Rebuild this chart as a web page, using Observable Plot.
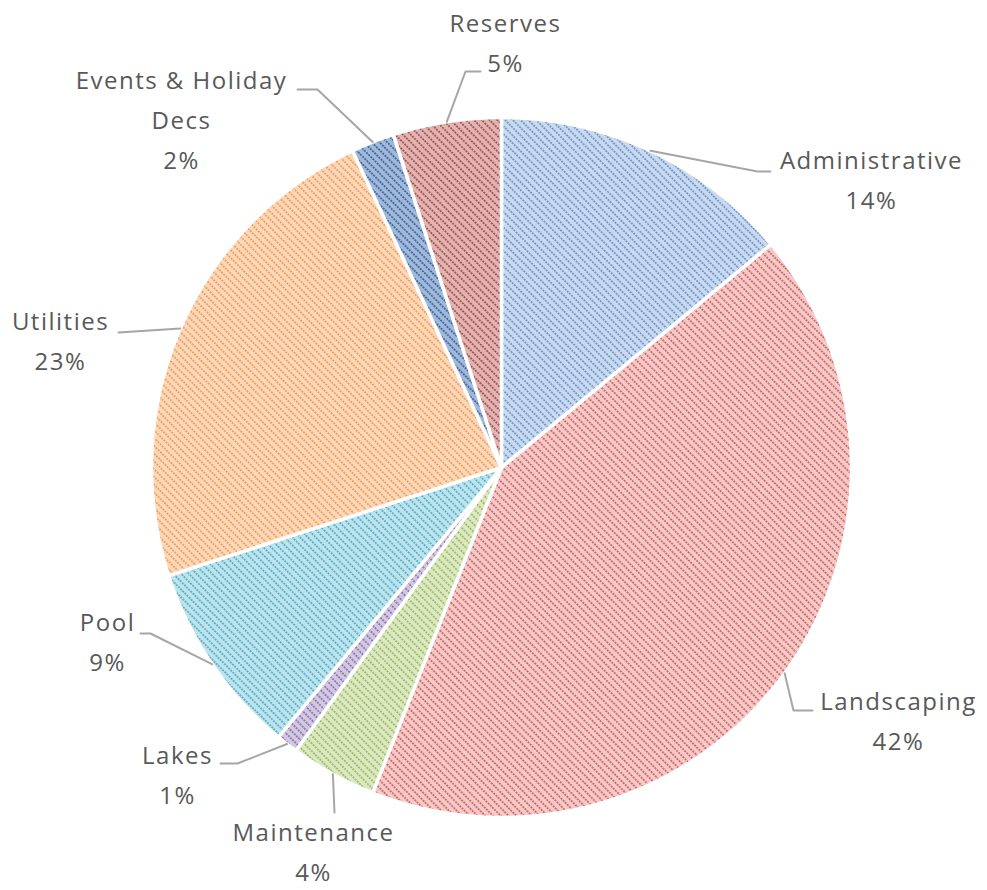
<!DOCTYPE html>
<html><head><meta charset="utf-8">
<script src="https://cdn.jsdelivr.net/npm/d3@7"></script>
<script src="https://cdn.jsdelivr.net/npm/@observablehq/plot@0.6"></script>
<style>html,body{margin:0;background:#fff}#chart svg{display:block}</style>
</head><body><div id="chart"></div>
<script>
// ---- data ----
const categories = ["Administrative","Landscaping","Maintenance","Lakes","Pool","Utilities","Events & Holiday Decs","Reserves"];
const values = [14, 42, 4, 1, 9, 23, 2, 5];
const labelLines = ["Administrative\n14%","Landscaping\n42%","Maintenance\n4%","Lakes\n1%","Pool\n9%","Utilities\n23%","Events & Holiday\nDecs\n2%","Reserves\n5%"];

// ---- styles ----
const baseColors = ["#c9daf0","#f5c9c8","#dbe8c2","#d3c8e2","#bde3ec","#fdd8b8","#9fb9dd","#e3b3b2"];
const dotColors  = ["#5b86bf","#c0504d","#8fb04e","#7b60a0","#3fa3bf","#e8904a","#2d4f80","#8c3a38"];

// ---- layout (pixels) ----
const W = 987, H = 890, CX = 501, CY = 467, R = 350;
const labelPos = [[871,176],[898,717],[313,848],[177,771],[107,638],[60,337],[181,116],[505,39]];
const leaderBend = [[757,171],[793,710],[334,812],[237,763],[150,633],[118,332],[317,89],[465,71]];
const leaderEnd  = [[770,171],[812,710],[334,812],[220,763],[140,633],[118,332],[297,89],[480,71]];
const toU = ([px,py]) => [(px-CX)/R, (CY-py)/R];

// ---- geometry from values ----
const total = d3.sum(values);
let acc = 0;
const slices = values.map((v,i) => {
  const a0 = acc/total*2*Math.PI; acc += v; const a1 = acc/total*2*Math.PI;
  return {i, a0, a1, mid:(a0+a1)/2};
});
const polys = slices.map(s => {
  const pts = [{x:0,y:0}];
  const n = Math.max(4, Math.ceil((s.a1-s.a0)/(Math.PI/360)));
  for (let k=0;k<=n;k++){ const a = s.a0+(s.a1-s.a0)*k/n; pts.push({x:Math.sin(a), y:Math.cos(a)}); }
  pts.push({x:0,y:0});
  return pts;
});
const leaders = slices.map(s => {
  const b = toU(leaderBend[s.i]), e = toU(leaderEnd[s.i]);
  return [{x:Math.sin(s.mid), y:Math.cos(s.mid)}, {x:b[0],y:b[1]}, {x:e[0],y:e[1]}];
});
const labels = categories.map((c,i) => { const p = toU(labelPos[i]); return {x:p[0], y:p[1], text: labelLines[i]}; });

const svg = Plot.plot({
  width: W, height: H, margin: 0,
  x: {domain: [-1,1], range: [CX-R, CX+R], axis: null},
  y: {domain: [-1,1], range: [CY+R, CY-R], axis: null},
  style: {fontFamily: "'Open Sans', sans-serif", background: "#fff", letterSpacing: "1.5px"},
  marks: [
    ...polys.map((p,i) => Plot.line(p, {x:"x", y:"y", fill:`url(#pat${i})`, stroke:"white", strokeWidth:3.5, strokeLinejoin:"round", curve:"linear"})),
    ...leaders.map(l => Plot.line(l, {x:"x", y:"y", stroke:"#a6a6a6", strokeWidth:2, curve:"linear"})),
    Plot.text(labels, {x:"x", y:"y", text:"text", fontSize:24, lineHeight:1.667, fill:"#595959", textAnchor:"middle"})
  ]
});

const ns = "http://www.w3.org/2000/svg";
const defs = document.createElementNS(ns, "defs");
baseColors.forEach((b,i) => {
  const pat = document.createElementNS(ns, "pattern");
  pat.setAttribute("id", `pat${i}`);
  pat.setAttribute("patternUnits", "userSpaceOnUse");
  pat.setAttribute("width", "6"); pat.setAttribute("height", "5.5");
  pat.setAttribute("patternTransform", "rotate(45)");
  const rect = document.createElementNS(ns, "rect");
  rect.setAttribute("width", "6"); rect.setAttribute("height", "5.5"); rect.setAttribute("fill", b);
  const line = document.createElementNS(ns, "line");
  line.setAttribute("x1","0"); line.setAttribute("x2","6"); line.setAttribute("y1","2.75"); line.setAttribute("y2","2.75");
  line.setAttribute("stroke", dotColors[i]); line.setAttribute("stroke-width","1.6");
  line.setAttribute("stroke-dasharray","2 1");
  pat.appendChild(rect); pat.appendChild(line);
  defs.appendChild(pat);
});
svg.insertBefore(defs, svg.firstChild);
document.getElementById("chart").appendChild(svg);
</script>
</body></html>
